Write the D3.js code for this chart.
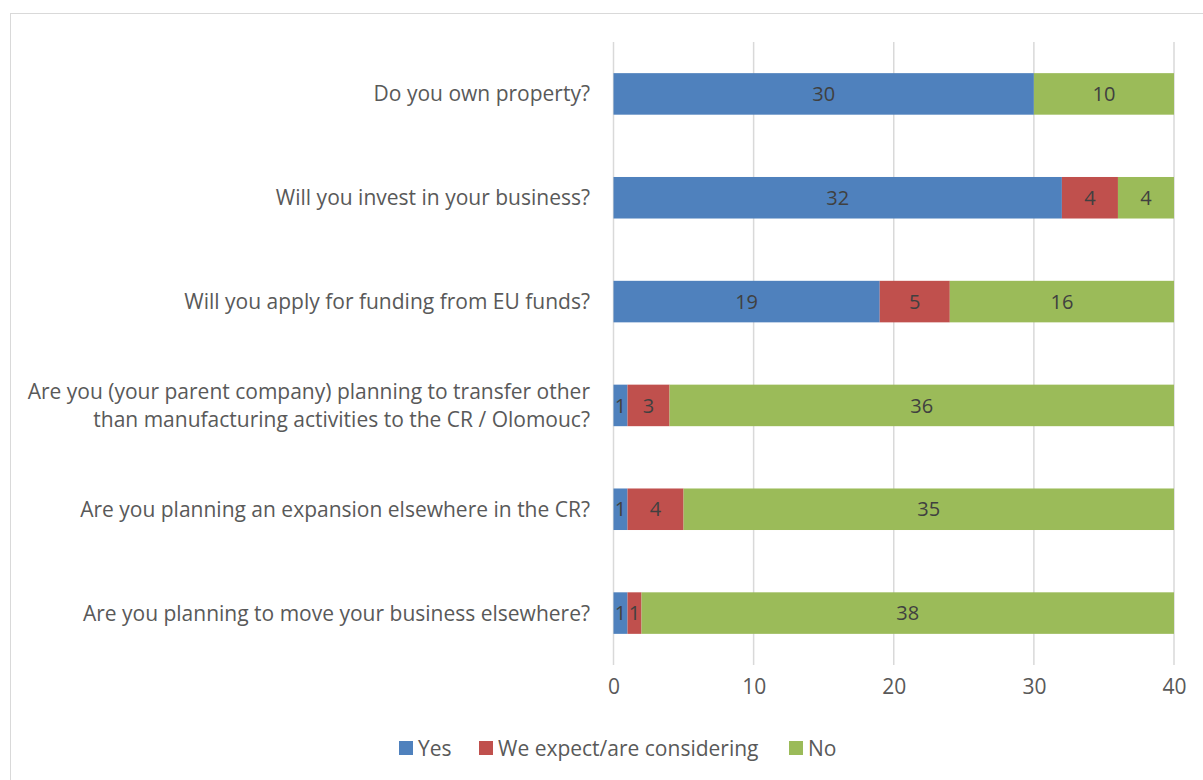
<!DOCTYPE html>
<html>
<head>
<meta charset="utf-8">
<script src="https://cdn.jsdelivr.net/npm/d3@7"></script>
<style>
  html, body { margin: 0; padding: 0; background: #fff; }
  svg { display: block; }
  text { font-family: "Open Sans", Lato, sans-serif; }
</style>
</head>
<body>
<svg id="chart" width="1203" height="780"></svg>
<script>
// Survey questions (top to bottom)
const questions = [
  ["Do you own property?"],
  ["Will you invest in your business?"],
  ["Will you apply for funding from EU funds?"],
  ["Are you (your parent company) planning to transfer other", "than manufacturing activities to the CR / Olomouc?"],
  ["Are you planning an expansion elsewhere in the CR?"],
  ["Are you planning to move your business elsewhere?"]
];
const seriesNames = ["Yes", "We expect/are considering", "No"];
const yesValues = [30, 32, 19, 1, 1, 1];
const expectValues = [0, 4, 5, 3, 4, 1];
const noValues = [10, 4, 16, 36, 35, 38];
const xTicks = [0, 10, 20, 30, 40];
const colors = ["#4F81BD", "#C0504D", "#9BBB59"];

const svg = d3.select("#chart");

// outer chart frame
svg.append("rect")
  .attr("x", 10.5).attr("y", 13.5)
  .attr("width", 1220).attr("height", 800)
  .attr("fill", "none").attr("stroke", "#d9d9d9").attr("stroke-width", 1);

const plot = { left: 613.5, right: 1174, top: 42, bottom: 665 };

const x = d3.scaleLinear().domain([0, 40]).range([plot.left, plot.right]);
const y = d3.scaleBand()
  .domain(d3.range(questions.length))
  .range([plot.top, plot.bottom])
  .paddingInner(0.6).paddingOuter(0.3);

// vertical gridlines
svg.append("g")
  .selectAll("line")
  .data(xTicks)
  .join("line")
  .attr("x1", d => x(d)).attr("x2", d => x(d))
  .attr("y1", plot.top).attr("y2", plot.bottom)
  .attr("stroke", "#d9d9d9").attr("stroke-width", 1.5);

// stack the three series
const rows = questions.map((q, i) => ({
  i, Yes: yesValues[i], "We expect/are considering": expectValues[i], No: noValues[i]
}));
const stack = d3.stack().keys(seriesNames)(rows);

const layers = svg.append("g")
  .selectAll("g")
  .data(stack)
  .join("g")
  .attr("fill", (d, k) => colors[k]);

layers.selectAll("rect")
  .data(d => d.filter(s => s[1] - s[0] > 0))
  .join("rect")
  .attr("x", s => x(s[0]))
  .attr("width", s => x(s[1]) - x(s[0]))
  .attr("y", s => y(s.data.i))
  .attr("height", y.bandwidth());

// value labels centred in each segment
layers.selectAll("text")
  .data(d => d.filter(s => s[1] - s[0] > 0))
  .join("text")
  .attr("x", s => (x(s[0]) + x(s[1])) / 2)
  .attr("y", s => y(s.data.i) + y.bandwidth() / 2)
  .attr("dy", "0.36em")
  .attr("text-anchor", "middle")
  .attr("fill", "#404040")
  .attr("font-size", 20)
  .text(s => s[1] - s[0]);

// category labels
const cat = svg.append("g");
questions.forEach((lines, i) => {
  const cy = y(i) + y.bandwidth() / 2;
  const lh = 28;
  const t = cat.append("text")
    .attr("text-anchor", "end")
    .attr("fill", "#595959")
    .attr("font-size", 21);
  lines.forEach((ln, j) => {
    t.append("tspan")
      .attr("x", 590)
      .attr("y", cy + (j - (lines.length - 1) / 2) * lh)
      .attr("dy", "0.36em")
      .text(ln);
  });
});

// x axis tick labels
const xAxis = d3.axisBottom(x).tickValues(xTicks).tickSize(0).tickPadding(0);
const gx = svg.append("g")
  .attr("transform", `translate(0,${plot.bottom + 16})`)
  .call(xAxis);
gx.select(".domain").remove();
gx.selectAll("text")
  .attr("fill", "#595959")
  .attr("font-size", 21)
  .attr("font-family", "'Open Sans', Lato, sans-serif")
  .attr("dy", "0.62em");

// legend
const legendX = [399, 479, 789];
const legend = svg.append("g")
  .selectAll("g")
  .data(seriesNames)
  .join("g")
  .attr("transform", (d, k) => `translate(${legendX[k]},748)`);
legend.append("rect")
  .attr("x", 0).attr("y", -7)
  .attr("width", 14).attr("height", 14)
  .attr("fill", (d, k) => colors[k]);
legend.append("text")
  .attr("x", 19).attr("dy", "0.36em")
  .attr("fill", "#595959")
  .attr("font-size", 21)
  .text(d => d);
</script>
</body>
</html>
